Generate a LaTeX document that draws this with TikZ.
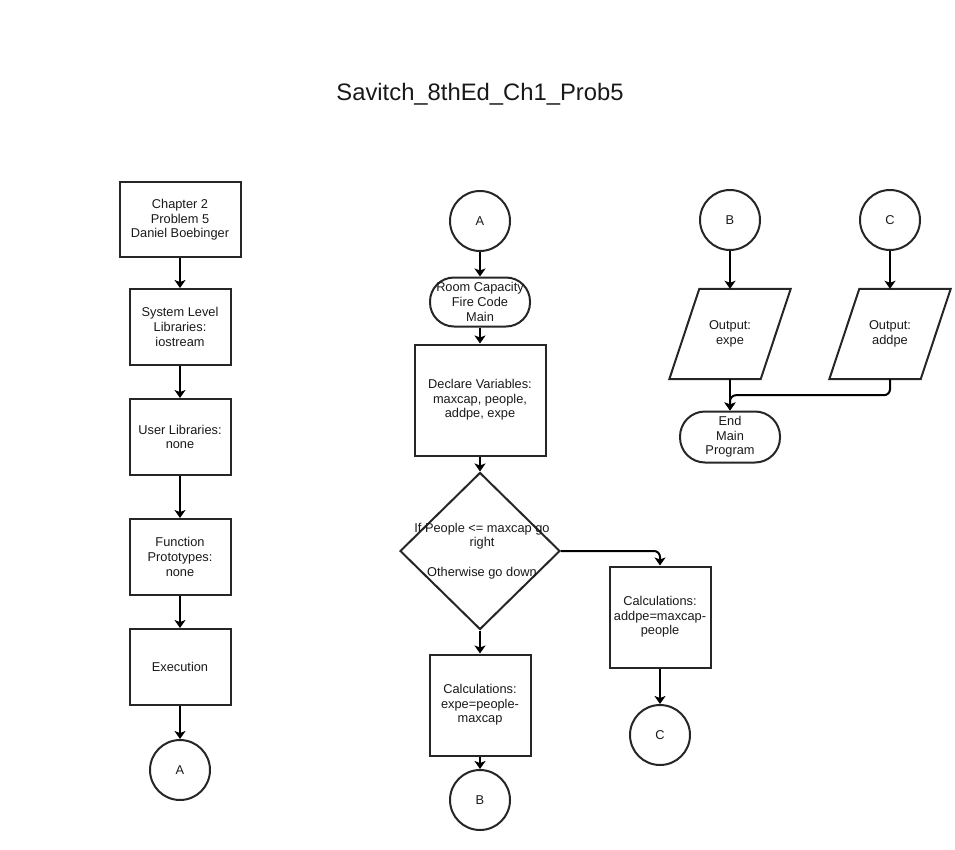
\documentclass[tikz,border=0pt]{standalone}
\usepackage{fontspec}
\setmainfont{Liberation Sans}
\usetikzlibrary{shapes.geometric,arrows.meta}
\begin{document}
\begin{tikzpicture}[x=1pt,y=-1pt,
  every node/.style={font=\fontsize{12.8}{14.6}\selectfont, text=black!90, align=center, inner sep=0pt},
  box/.style={draw=black!85, line width=2pt, rectangle, minimum width=100pt, minimum height=75pt},
  conn/.style={draw=black!85, line width=2pt, circle, minimum size=60pt},
  term/.style={draw=black!85, line width=2pt, rectangle, rounded corners=24pt, minimum width=100pt, minimum height=49pt},
  shp/.style={draw=black!85, line width=2pt},
  arr/.style={draw=black, line width=2pt, -{Stealth[length=8pt,width=11pt,inset=2pt]}}]
\useasboundingbox (0,0) rectangle (955,850);
% title
\node[font=\fontsize{23.8}{28}\selectfont] (title) at (480,94) {Savitch\_8thEd\_Ch1\_Prob5};
% left column
\node[box, minimum width=121pt, minimum height=75pt] (b1) at (180,220) {Chapter 2\\Problem 5\\Daniel Boebinger};
\node[box, minimum width=101pt, minimum height=76pt] (b2) at (180,327) {System Level\\Libraries:\\iostream};
\node[box, minimum width=101pt, minimum height=76pt] (b3) at (180,437) {User Libraries:\\none};
\node[box, minimum width=101pt, minimum height=76pt] (b4) at (180,557) {Function\\Prototypes:\\none};
\node[box, minimum width=101pt, minimum height=76pt] (b5) at (180,667) {Execution};
\node[conn] (a1) at (180,770) {A};
\draw[arr] (b1) -- (b2);
\draw[arr] (b2) -- (b3);
\draw[arr] (b3) -- (b4);
\draw[arr] (b4) -- (b5);
\draw[arr] (b5) -- (a1);
% middle column
\node[conn] (a2) at (480,221) {A};
\node[term] (room) at (480,302) {Room Capacity\\Fire Code\\Main};
\node[box, minimum width=131pt, minimum height=111pt] (decl) at (480,400) {Declare Variables:\\maxcap, people,\\addpe, expe};
\node[shp, diamond, minimum width=160pt, minimum height=157pt] (dia) at (480,551) {};
\node (diat) at (482,551) {If People <= maxcap go\\right\\[15pt]Otherwise go down};
\node[box, minimum width=101pt, minimum height=101pt] (cexp) at (480,705) {Calculations:\\expe=people-\\maxcap};
\node[conn] (bm) at (480,800) {B};
\draw[arr] (a2) -- (room);
\draw[arr] (room) -- (decl);
\draw[arr] (decl) -- (dia);
\draw[arr] (dia) -- (cexp);
\draw[arr] (cexp) -- (bm);
% right branch
\node[box, minimum width=101pt, minimum height=101pt] (cadd) at (660,617) {Calculations:\\addpe=maxcap-\\people};
\node[conn] (cm) at (660,735) {C};
\draw[arr, rounded corners=6pt] (dia.east) -| (cadd.north);
\draw[arr] (cadd) -- (cm);
% top right
\node[conn] (bt) at (730,220) {B};
\node[conn] (ct) at (890,220) {C};
\node[minimum width=121pt, minimum height=90pt] (bout) at (730,334) {Output:\\ expe};
\node[minimum width=121pt, minimum height=90pt] (cout) at (890,334) {Output:\\ addpe};
\draw[shp] ([xshift=30pt]bout.north west) -- (bout.north east) -- ([xshift=-30pt]bout.south east) -- (bout.south west) -- cycle;
\draw[shp] ([xshift=30pt]cout.north west) -- (cout.north east) -- ([xshift=-30pt]cout.south east) -- (cout.south west) -- cycle;
\node[term, minimum width=100pt, minimum height=51pt, rounded corners=25pt] (endp) at (730,437) {End\\Main\\Program};
\draw[arr] (bt) -- (bout);
\draw[arr] (ct) -- (cout);
\draw[arr] (bout.south) -- (endp.north);
\draw[arr, rounded corners=6pt] (cout.south) -- ++(0,16) -| (endp.north);
\end{tikzpicture}
\end{document}
